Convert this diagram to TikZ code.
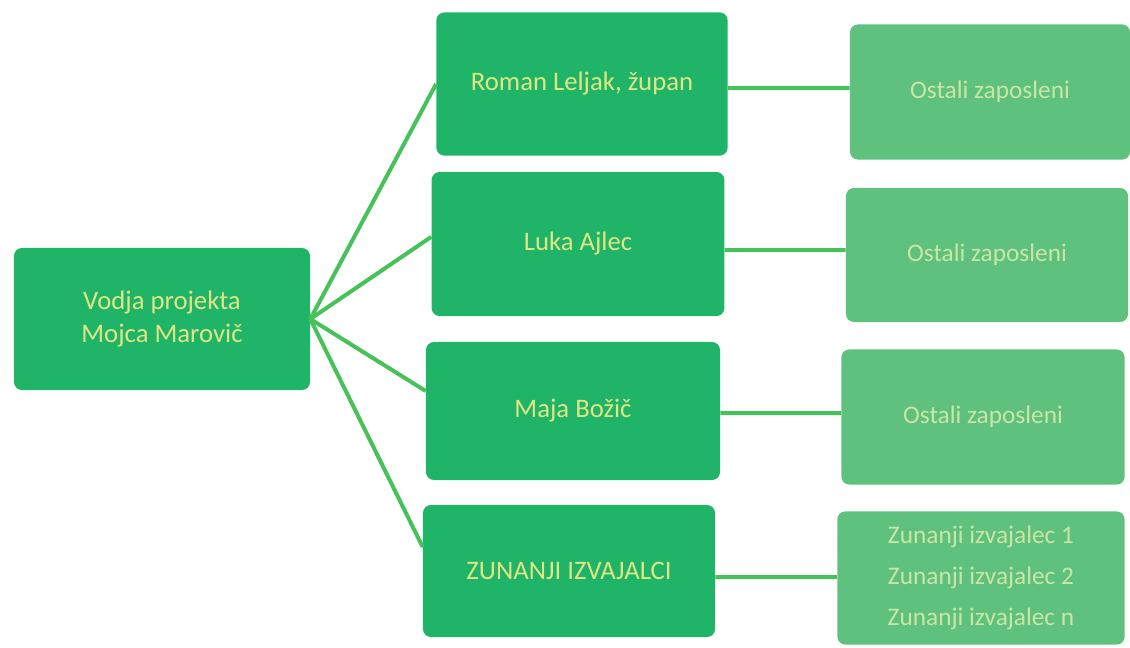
\documentclass[tikz,border=0pt]{standalone}
\usepackage{fontspec}
\setmainfont{Carlito}
\usepackage{tikz}
\definecolor{vodjagreen}{HTML}{1FB468}
\definecolor{ostaligreen}{HTML}{5EC17E}
\definecolor{vodjatext}{HTML}{DFE683}
\definecolor{ostalitext}{HTML}{CBE6A4}
\definecolor{linegreen}{HTML}{46C258}
\tikzset{
	glavni/.style={fill=vodjagreen, rounded corners=2mm, text=vodjatext, align=center, font=\fontsize{19}{23}\selectfont},
	ostali/.style={fill=ostaligreen, rounded corners=2mm, text=ostalitext, align=center, font=\fontsize{18}{29}\selectfont},
	povezava/.style={line width=0.1cm, color=linegreen}
}

\begin{document}
\begin{tikzpicture}[x=0.025cm, y=-0.025cm]
		%%%%% START %%%%%
		
		\useasboundingbox (0, 0) rectangle (1130, 647);
		
		\node[glavni, minimum width=7.4cm, minimum height=3.55cm] (vodja) at (162, 319) {Vodja projekta\\Mojca Marovič};
		
		\node[glavni, minimum width=7.28cm, minimum height=3.58cm] (roman) at (582, 84) {Roman Leljak, župan};
		\node[glavni, minimum width=7.32cm, minimum height=3.6cm] (luka) at (578, 244) {Luka Ajlec};
		\node[glavni, minimum width=7.35cm, minimum height=3.45cm] (maja) at (573, 411) {Maja Božič};
		\node[glavni, minimum width=7.3cm, minimum height=3.3cm] (zunanji) at (569, 571) {ZUNANJI IZVAJALCI};
		
		\node[ostali, minimum width=7cm, minimum height=3.38cm] (ostali1) at (990, 92) {Ostali zaposleni};
		\node[ostali, minimum width=7.05cm, minimum height=3.35cm] (ostali2) at (987, 255) {Ostali zaposleni};
		\node[ostali, minimum width=7.08cm, minimum height=3.38cm] (ostali3) at (983, 417) {Ostali zaposleni};
		\node[ostali, minimum width=7.18cm, minimum height=3.33cm] (izvajalci) at (981, 578) {Zunanji izvajalec 1\\Zunanji izvajalec 2\\Zunanji izvajalec n};
		
		\draw[povezava] (vodja.east) -- (roman.west);
		\draw[povezava] (vodja.east) -- ([yshift=0.18cm]luka.west);
		\draw[povezava] (vodja.east) -- ([yshift=0.5cm]maja.west);
		\draw[povezava] (vodja.east) -- ([yshift=0.6cm]zunanji.west);
		
		\draw[povezava] ([yshift=-0.1cm]roman.east) -- ([yshift=0.1cm]ostali1.west);
		\draw[povezava] ([yshift=-0.15cm]luka.east) -- ([yshift=0.12cm]ostali2.west);
		\draw[povezava] ([yshift=-0.05cm]maja.east) -- ([yshift=0.1cm]ostali3.west);
		\draw[povezava] ([yshift=-0.15cm]zunanji.east) -- ([yshift=0.02cm]izvajalci.west);
		
		%%%%% END %%%%%
	\end{tikzpicture}
\end{document}
